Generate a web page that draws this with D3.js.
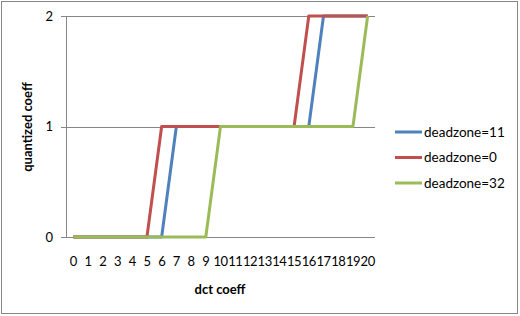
<!DOCTYPE html>
<html>
<head>
<meta charset="utf-8">
<script src="https://cdn.jsdelivr.net/npm/d3@7"></script>
<style>
body { margin: 0; background: #fff; }
text { font-family: Lato, "Liberation Sans", sans-serif; fill: #000; }
</style>
</head>
<body>
<div id="chart"></div>
<script>
var categories = d3.range(0, 21);
var yTicks = [0, 1, 2];
var seriesNames = ["deadzone=11", "deadzone=0", "deadzone=32"];
var seriesColors = ["#4F81BD", "#C0504D", "#9BBB59"];
var dz11 = [0,0,0,0,0,0,0,1,1,1,1,1,1,1,1,1,1,2,2,2,2];
var dz0  = [0,0,0,0,0,0,1,1,1,1,1,1,1,1,1,1,2,2,2,2,2];
var dz32 = [0,0,0,0,0,0,0,0,0,0,1,1,1,1,1,1,1,1,1,1,2];
var allSeries = [dz11, dz0, dz32];

var w = 520, h = 316;
var svg = d3.select("#chart").append("svg")
    .attr("width", w)
    .attr("height", h);

// outer frame
svg.append("rect")
    .attr("x", 1.5).attr("y", 1.5)
    .attr("width", 516).attr("height", 312)
    .attr("fill", "#fff")
    .attr("stroke", "#868686");

var pLeft = 66, pRight = 375, pTop = 16, pBottom = 237;

var xscale = d3.scaleBand()
    .domain(categories)
    .range([pLeft, pRight]);
var yscale = d3.scaleLinear()
    .domain([0, 2])
    .range([pBottom, pTop]);

// gridlines
svg.append("g")
    .selectAll("line")
    .data(yTicks)
    .enter().append("line")
    .attr("x1", pLeft - 5)
    .attr("x2", pRight)
    .attr("y1", function(d) { return Math.round(yscale(d)) + 0.5; })
    .attr("y2", function(d) { return Math.round(yscale(d)) + 0.5; })
    .attr("stroke", "#868686");

svg.append("line")
    .attr("x1", pLeft + 0.5).attr("x2", pLeft + 0.5)
    .attr("y1", pTop).attr("y2", pBottom)
    .attr("stroke", "#868686");

// y tick labels
var yaxis = d3.axisLeft(yscale).tickValues(yTicks).tickFormat(d3.format("d")).tickSize(0).tickPadding(13);
var gY = svg.append("g")
    .attr("transform", "translate(" + pLeft + ",0)")
    .call(yaxis);
gY.select(".domain").remove();
gY.selectAll("text").style("font-family", "Lato, sans-serif").style("font-size", "13px");

// x tick labels
var xaxis = d3.axisBottom(xscale).tickSize(0).tickPadding(20);
var gX = svg.append("g")
    .attr("transform", "translate(0," + pBottom + ")")
    .call(xaxis);
gX.select(".domain").remove();
gX.selectAll("text").style("font-family", "Lato, sans-serif").style("font-size", "13px").attr("letter-spacing", "-0.5px");

// lines
var line = d3.line()
    .x(function(d, i) { return xscale(categories[i]) + xscale.bandwidth() / 2; })
    .y(function(d) { return yscale(d); });

svg.selectAll("path.series")
    .data(allSeries)
    .enter().append("path")
    .attr("class", "series")
    .attr("d", line)
    .attr("fill", "none")
    .attr("stroke", function(d, i) { return seriesColors[i]; })
    .attr("stroke-width", 3)
    .attr("stroke-linejoin", "round");

// axis titles
svg.append("text")
    .attr("x", 220).attr("y", 294)
    .attr("text-anchor", "middle")
    .style("font-size", "13px")
    .style("font-weight", "bold")
    .text("dct coeff");

svg.append("text")
    .attr("transform", "translate(32,127) rotate(-90)")
    .attr("text-anchor", "middle")
    .style("font-size", "13px")
    .style("font-weight", "bold")
    .text("quantized coeff");

// legend
var legend = svg.selectAll("g.legend")
    .data(seriesNames)
    .enter().append("g")
    .attr("class", "legend")
    .attr("transform", function(d, i) { return "translate(395," + (132 + i * 25.5) + ")"; });
legend.append("line")
    .attr("x1", 0).attr("x2", 27)
    .attr("stroke", function(d, i) { return seriesColors[i]; })
    .attr("stroke-width", 3);
legend.append("text")
    .attr("x", 29).attr("dy", "0.35em")
    .style("font-size", "13.5px")
    .text(function(d) { return d; });
</script>
</body>
</html>
